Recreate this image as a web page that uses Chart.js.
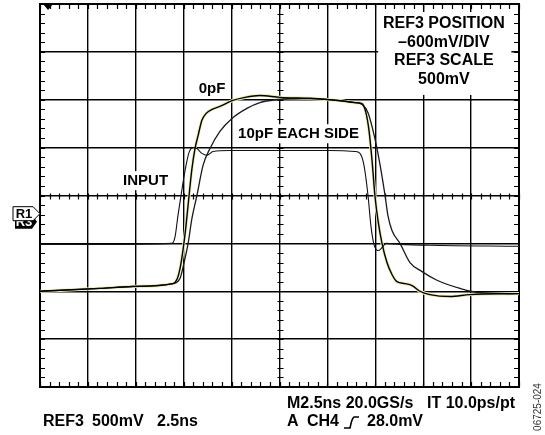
<!DOCTYPE html>
<html>
<head>
<meta charset="utf-8">
<script src="https://cdn.jsdelivr.net/npm/chart.js"></script>
<style>
  html, body { margin: 0; padding: 0; background: #fff; }
  #wrap { width: 545px; height: 435px; }
</style>
</head>
<body>
<div id="wrap"><canvas id="scope" width="545" height="435"></canvas></div>
<script>
// time in ns (2.5ns/div), level in divisions from screen centre
const inputTime = [0, 3.13, 6.89, 7.05, 7.20, 7.36, 7.57, 7.78, 7.99, 8.19, 8.45, 8.72, 9.03, 9.92, 12.53, 15.14, 16.44, 16.70, 16.91, 17.12, 17.27, 17.43, 17.64, 17.85, 18.06, 18.79, 20.35, 25.0];
const inputLevel = [-1.02, -1.02, -1.00, -0.86, -0.42, 0, 0.52, 0.90, 1.00, 0.98, 0.88, 0.84, 0.92, 0.94, 0.94, 0.94, 0.92, 0.88, 0.63, 0, -0.63, -1.02, -1.15, -1.09, -1.00, -1.02, -1.04, -1.06];

const pf0Time = [0, 3.13, 4.85, 6.94, 7.15, 7.31, 7.46, 7.62, 7.78, 7.93, 8.09, 8.25, 8.45, 8.66, 8.98, 9.39, 10.02, 10.70, 11.48, 12.53, 14.09, 15.66, 16.44,
  16.81, 17.01, 17.17, 17.33, 17.48, 17.64, 17.85, 18.11, 18.37, 18.63, 19.05, 19.42, 19.83, 20.35, 21.40, 22.44, 25.0];
const pf0Level = [-2.00, -1.94, -1.90, -1.84, -1.75, -1.52, -1.15, -0.63, 0, 0.56, 0.98, 1.25, 1.57, 1.71, 1.80, 1.86, 1.98, 2.05, 2.09, 2.05, 2.03, 1.98, 1.94,
  1.92, 1.73, 1.36, 0.73, 0, -0.52, -1.00, -1.40, -1.65, -1.80, -1.84, -1.88, -2.00, -2.07, -2.11, -2.07, -2.05];

const pf10Time = [0, 3.13, 4.85, 6.94, 7.31, 7.52, 7.73, 7.93, 8.19, 8.51, 8.87, 9.39, 10.02, 10.80, 11.48, 12.27, 13.57, 15.66, 16.44, 16.81,
  17.12, 17.38, 17.59, 17.80, 18.01, 18.16, 18.37, 18.79, 19.31, 19.94, 20.72, 21.92, 22.96, 25.0];
const pf10Level = [-2.00, -1.94, -1.90, -1.84, -1.73, -1.40, -1.00, -0.48, 0, 0.63, 0.98, 1.34, 1.61, 1.82, 1.94, 2.00, 2.03, 1.98, 1.94, 1.90,
  1.73, 1.36, 0.98, 0.52, 0, -0.42, -0.73, -1.00, -1.40, -1.59, -1.77, -1.94, -2.03, -2.05];

const toPoints = (ts, vs) => ts.map((t, i) => ({ x: t, y: vs[i] }));

const FONT = '"Liberation Sans", Arial, sans-serif';

const labelWithBg = (ctx, text, cx, cy, size) => {
  ctx.font = `bold ${size}px ${FONT}`;
  const w = ctx.measureText(text).width;
  ctx.fillStyle = '#fff';
  ctx.fillRect(cx - w / 2 - 2, cy - size / 2 - 2, w + 4, size + 4);
  ctx.fillStyle = '#000';
  ctx.fillText(text, cx, cy);
};

const scopeMarks = {
  id: 'scopeMarks',
  beforeDatasetsDraw(chart) {
    const { ctx, chartArea: a, scales: { x, y } } = chart;
    const xc = Math.round(x.getPixelForValue(12.5)) + 0.5;
    const yc = Math.round(y.getPixelForValue(0)) + 0.5;
    ctx.save();
    ctx.strokeStyle = '#000';
    ctx.lineWidth = 1.2;
    ctx.beginPath();
    // minor ticks, 5 per division
    for (let i = 0; i <= 50; i++) {
      const px = Math.round(x.getPixelForValue(i * 0.5)) + 0.5;
      ctx.moveTo(px, a.top); ctx.lineTo(px, a.top + 5);
      ctx.moveTo(px, a.bottom); ctx.lineTo(px, a.bottom - 5);
      ctx.moveTo(px, yc - 3); ctx.lineTo(px, yc + 3);
    }
    for (let i = 0; i <= 40; i++) {
      const py = Math.round(y.getPixelForValue(-4 + i * 0.2)) + 0.5;
      ctx.moveTo(a.left, py); ctx.lineTo(a.left + 5, py);
      ctx.moveTo(a.right, py); ctx.lineTo(a.right - 5, py);
      ctx.moveTo(xc - 3, py); ctx.lineTo(xc + 3, py);
    }
    ctx.stroke();
    ctx.lineWidth = 2;
    ctx.strokeRect(a.left, a.top, a.width, a.height);

    // trigger position marker
    ctx.fillStyle = '#000';
    const tx = x.getPixelForValue(0.42);
    ctx.beginPath();
    ctx.moveTo(tx - 5, a.top); ctx.lineTo(tx + 5, a.top); ctx.lineTo(tx, a.top + 6);
    ctx.closePath(); ctx.fill();

    ctx.textAlign = 'center';
    ctx.textBaseline = 'middle';
    labelWithBg(ctx, '0pF', x.getPixelForValue(8.98), y.getPixelForValue(2.23), 15);
    labelWithBg(ctx, '10pF EACH SIDE', x.getPixelForValue(13.49), y.getPixelForValue(1.29), 15);
    labelWithBg(ctx, 'INPUT', x.getPixelForValue(5.51), y.getPixelForValue(0.31), 15);

    // reference info box
    const bx = x.getPixelForValue(21.08);
    ctx.fillStyle = '#fff';
    ctx.fillRect(x.getPixelForValue(17.65), a.top + 8, x.getPixelForValue(24.6) - x.getPixelForValue(17.65), y.getPixelForValue(2.1) - a.top - 8);
    ctx.fillStyle = '#000';
    ctx.font = `bold 16px ${FONT}`;
    ['REF3 POSITION', '\u2013600mV/DIV', 'REF3 SCALE', '500mV'].forEach((s, i) => {
      ctx.fillText(s, bx, a.top + 20 + i * 18.5);
    });
    ctx.restore();
  },
  afterDraw(chart) {
    const { ctx, chartArea: a, scales: { y } } = chart;
    ctx.save();
    // R1 / R3 channel markers
    const my = y.getPixelForValue(-0.38);
    ctx.fillStyle = '#000';
    ctx.beginPath();
    ctx.moveTo(15, my + 1); ctx.lineTo(32, my + 1); ctx.lineTo(37, my + 8); ctx.lineTo(32, my + 15); ctx.lineTo(15, my + 15);
    ctx.closePath(); ctx.fill();
    ctx.fillStyle = '#fff';
    ctx.font = `bold 13px ${FONT}`;
    ctx.textAlign = 'center';
    ctx.textBaseline = 'middle';
    ctx.fillText('R3', 24, my + 9);
    ctx.beginPath();
    ctx.moveTo(13, my - 7); ctx.lineTo(33, my - 7); ctx.lineTo(a.left, my); ctx.lineTo(33, my + 7); ctx.lineTo(13, my + 7);
    ctx.closePath();
    ctx.fill();
    ctx.strokeStyle = '#000'; ctx.lineWidth = 1;
    ctx.stroke();
    ctx.fillStyle = '#000';
    ctx.fillText('R1', 24, my + 0.5);

    // readouts under the screen
    ctx.textAlign = 'left';
    ctx.font = `bold 16px ${FONT}`;
    ctx.fillText('REF3', 43, 422);
    ctx.fillText('500mV', 92, 422);
    ctx.fillText('2.5ns', 157, 422);
    ctx.fillText('M2.5ns 20.0GS/s', 287, 404);
    ctx.fillText('IT 10.0ps/pt', 427, 404);
    ctx.fillText('A', 287, 422);
    ctx.fillText('CH4', 307, 422);
    ctx.fillText('28.0mV', 367, 422);
    ctx.lineWidth = 1.6;
    ctx.beginPath();
    ctx.moveTo(344, 428); ctx.lineTo(350, 428);
    ctx.quadraticCurveTo(352, 418, 354, 417); ctx.lineTo(359, 417);
    ctx.stroke();

    ctx.translate(538, 407);
    ctx.rotate(-Math.PI / 2);
    ctx.textAlign = 'center';
    ctx.font = `10px ${FONT}`;
    ctx.fillStyle = '#333';
    ctx.fillText('06725-024', 0, 0);
    ctx.restore();
  }
};

const grid = { color: '#000', lineWidth: 1.4, drawTicks: false };

new Chart(document.getElementById('scope'), {
  type: 'line',
  data: {
    datasets: [
      { label: '0pF', data: toPoints(pf0Time, pf0Level), borderColor: '#000', borderWidth: 1.4, order: 0 },
      { label: 'INPUT', data: toPoints(inputTime, inputLevel), borderColor: '#111', borderWidth: 1.1, order: 1 },
      { label: '10pF EACH SIDE', data: toPoints(pf10Time, pf10Level), borderColor: '#1a1a1a', borderWidth: 1.3, order: 2 },
      { label: '0pF halo', data: toPoints(pf0Time, pf0Level), borderColor: '#eeeeb4', borderWidth: 3.2, order: 3 }
    ]
  },
  options: {
    responsive: false,
    animation: false,
    events: [],
    layout: { padding: { left: 40, top: 4, right: 26, bottom: 48 } },
    elements: {
      point: { radius: 0 },
      line: { cubicInterpolationMode: 'monotone', fill: false }
    },
    scales: {
      x: { type: 'linear', min: 0, max: 25, ticks: { display: false, stepSize: 2.5 }, grid, border: { color: '#000', width: 2 } },
      y: { type: 'linear', min: -4, max: 4, ticks: { display: false, stepSize: 1 }, grid, border: { color: '#000', width: 2 } }
    },
    plugins: { legend: { display: false }, tooltip: { enabled: false } }
  },
  plugins: [scopeMarks]
});
</script>
</body>
</html>
